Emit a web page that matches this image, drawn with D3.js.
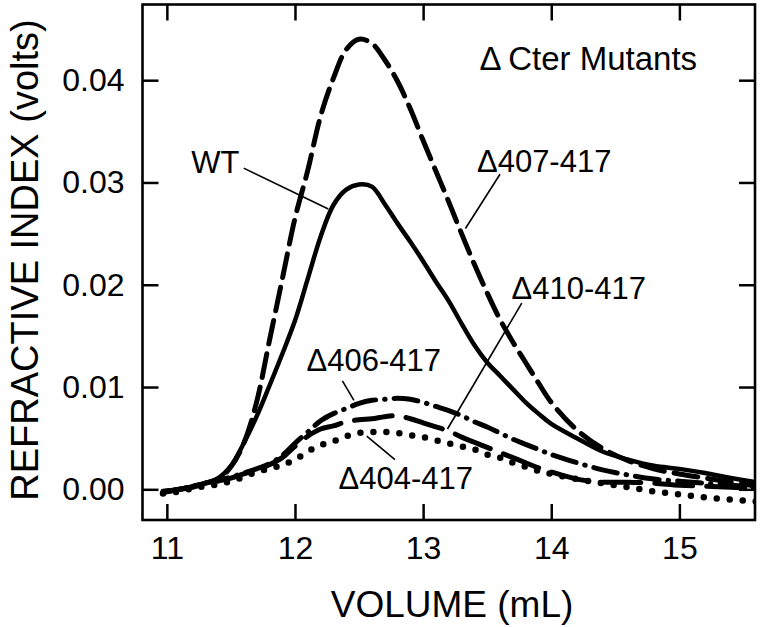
<!DOCTYPE html>
<html>
<head>
<meta charset="utf-8">
<script src="https://cdn.jsdelivr.net/npm/d3@7"></script>
<style>
  html, body { margin: 0; padding: 0; background: #fff; }
  svg text { font-family: "Liberation Sans", Arial, Helvetica, sans-serif; fill: #000; }
</style>
</head>
<body>
<svg id="chart" width="762" height="627"></svg>
<script>
// ---- data (volume in mL, refractive index in volts) ----
const volume = [10.97, 11.1, 11.2, 11.3, 11.4, 11.5, 11.6, 11.7, 11.8, 11.9,
  12.0, 12.1, 12.2, 12.3, 12.4, 12.5, 12.6, 12.7, 12.8, 12.9,
  13.0, 13.1, 13.2, 13.3, 13.4, 13.5, 13.6, 13.7, 13.8, 13.9,
  14.0, 14.2, 14.4, 14.6, 14.8, 15.0, 15.2, 15.4, 15.6];

const wt = [-0.0002, 0.0000, 0.0003, 0.0006, 0.0011, 0.0023, 0.0045, 0.0071, 0.0101, 0.0132,
  0.0165, 0.0206, 0.0247, 0.0278, 0.0293, 0.0298, 0.0296, 0.0279, 0.0260, 0.0242,
  0.0223, 0.0203, 0.0184, 0.0162, 0.0141, 0.0124, 0.0111, 0.0098, 0.0085, 0.0074,
  0.0064, 0.0050, 0.0037, 0.0029, 0.0023, 0.0020, 0.0016, 0.0011, 0.0007];

const d407 = [-0.0003, 0.0000, 0.0003, 0.0006, 0.0010, 0.0022, 0.0045, 0.0085, 0.0145, 0.0205,
  0.0265, 0.0312, 0.0365, 0.0402, 0.0430, 0.0440, 0.0436, 0.0420, 0.0399, 0.0372,
  0.0341, 0.0311, 0.0281, 0.0250, 0.0220, 0.0192, 0.0166, 0.0144, 0.0124, 0.0104,
  0.0085, 0.0058, 0.0040, 0.0028, 0.0020, 0.0015, 0.0011, 0.0007, 0.0003];

const d406 = [-0.0002, 0.0000, 0.0003, 0.0006, 0.0009, 0.0012, 0.0016, 0.0020, 0.0025, 0.0033,
  0.0045, 0.0056, 0.0067, 0.0074, 0.0079, 0.0084, 0.0087, 0.0088, 0.0089, 0.0088,
  0.0085, 0.0081, 0.0077, 0.0072, 0.0066, 0.0061, 0.0055, 0.0049, 0.0044, 0.0039,
  0.0034, 0.0026, 0.0019, 0.0014, 0.0010, 0.0008, 0.0006, 0.0004, 0.0002];

const d410 = [-0.0003, 0.0000, 0.0002, 0.0005, 0.0008, 0.0011, 0.0015, 0.0019, 0.0024, 0.0031,
  0.0042, 0.0052, 0.0059, 0.0062, 0.0066, 0.0068, 0.0069, 0.0071, 0.0072, 0.0069,
  0.0065, 0.0061, 0.0057, 0.0051, 0.0046, 0.0041, 0.0036, 0.0031, 0.0026, 0.0021,
  0.0017, 0.0010, 0.0007, 0.0007, 0.0006, 0.0004, 0.0003, 0.0002, 0.0001];

const d404 = [-0.0004, -0.0002, 0.0001, 0.0003, 0.0005, 0.0008, 0.0012, 0.0017, 0.0020, 0.0024,
  0.0029, 0.0037, 0.0043, 0.0047, 0.0052, 0.0055, 0.0056, 0.0056, 0.0055, 0.0053,
  0.0051, 0.0048, 0.0045, 0.0042, 0.0039, 0.0034, 0.0031, 0.0026, 0.0022, 0.0018,
  0.0015, 0.0010, 0.0006, 0.0002, -0.0002, -0.0005, -0.0008, -0.0010, -0.0012];

const xTicks = [11, 12, 13, 14, 15];
const yTicks = [0.00, 0.01, 0.02, 0.03, 0.04];
const xTitle = "VOLUME (mL)";
const yTitle = "REFRACTIVE INDEX (volts)";
const panelTitle = "\u0394\u2009Cter Mutants";

// labels: text, anchor point (data units), leader line from/to (data units)
const labelNames = ["WT", "\u0394407-417", "\u0394410-417", "\u0394406-417", "\u0394404-417"];
const labelAt = [[11.19, 0.0309], [13.42, 0.0310], [13.69, 0.0186], [12.09, 0.0116], [12.34, 0.0000]];
const leaderFrom = [[11.60, 0.0314], [13.60, 0.0308], [13.77, 0.0182], [12.37, 0.0106], [12.56, 0.0052]];
const leaderTo = [[12.26, 0.0274], [13.33, 0.0255], [13.19, 0.0059], [12.46, 0.0087], [12.78, 0.0029]];

// ---- layout ----
const svg = d3.select("#chart");
const L = 142.5, R = 755, T = 4.5, B = 520;
const x = d3.scaleLinear().domain([10.81, 15.59]).range([L, R]);
const y = d3.scaleLinear().domain([-0.0030, 0.0474]).range([B, T]);

svg.append("defs").append("clipPath").attr("id", "clip")
  .append("rect").attr("x", L).attr("y", T).attr("width", R - L).attr("height", B - T);

const series = [
  { v: d404, dash: "0,13", width: 6.5 },
  { v: d410, dash: "38,14", width: 5 },
  { v: d406, dash: "24,9,0.5,9", width: 5 },
  { v: wt, dash: null, width: 4.5 },
  { v: d407, dash: "24,10", width: 5 }
];

const line = d3.line()
  .x(d => x(d[0])).y(d => y(d[1]))
  .curve(d3.curveCatmullRom.alpha(0.5));

const plot = svg.append("g").attr("clip-path", "url(#clip)");
series.forEach(s => {
  plot.append("path")
    .datum(volume.map((v, i) => [v, s.v[i]]))
    .attr("d", line)
    .attr("fill", "none")
    .attr("stroke", "#000")
    .attr("stroke-width", s.width)
    .attr("stroke-linecap", "round")
    .attr("stroke-linejoin", "round")
    .attr("stroke-dasharray", s.dash);
});

// ---- axes ----
const fs = 32;
const gx = svg.append("g").attr("transform", `translate(0,${B})`)
  .call(d3.axisBottom(x).tickValues(xTicks).tickFormat(d3.format("d"))
    .tickSizeInner(-16).tickSizeOuter(0).tickPadding(16));
const gy = svg.append("g").attr("transform", `translate(${L},0)`)
  .call(d3.axisLeft(y).tickValues(yTicks).tickFormat(d3.format(".2f"))
    .tickSizeInner(-16).tickSizeOuter(0).tickPadding(18));
const gt = svg.append("g").attr("transform", `translate(0,${T})`)
  .call(d3.axisTop(x).tickValues(xTicks).tickFormat("")
    .tickSizeInner(-16).tickSizeOuter(0));
const gr = svg.append("g").attr("transform", `translate(${R},0)`)
  .call(d3.axisRight(y).tickValues(yTicks).tickFormat("")
    .tickSizeInner(-16).tickSizeOuter(0));
[gx, gy, gt, gr].forEach(g => {
  g.select(".domain").remove();
  g.selectAll(".tick line").attr("stroke", "#000").attr("stroke-width", 2.5);
  g.selectAll("text").attr("font-size", fs)
    .attr("font-family", "'Liberation Sans', Arial, sans-serif").attr("fill", "#000");
});

// frame
svg.append("rect").attr("x", L).attr("y", T).attr("width", R - L).attr("height", B - T)
  .attr("fill", "none").attr("stroke", "#000").attr("stroke-width", 2.6);

// axis titles
svg.append("text").attr("x", 452).attr("y", 617)
  .attr("text-anchor", "middle").attr("font-size", 37).text(xTitle);
svg.append("text").attr("transform", "translate(38,260) rotate(-90)")
  .attr("text-anchor", "middle").attr("font-size", 38).text(yTitle);

// annotation labels
svg.append("text").attr("x", x(13.44)).attr("y", y(0.0410))
  .attr("font-size", 33).text(panelTitle);
labelNames.forEach((t, i) => {
  svg.append("text").attr("x", x(labelAt[i][0])).attr("y", y(labelAt[i][1]))
    .attr("font-size", 31).text(t);
  svg.append("line")
    .attr("x1", x(leaderFrom[i][0])).attr("y1", y(leaderFrom[i][1]))
    .attr("x2", x(leaderTo[i][0])).attr("y2", y(leaderTo[i][1]))
    .attr("stroke", "#000").attr("stroke-width", 1.6);
});
</script>
</body>
</html>
